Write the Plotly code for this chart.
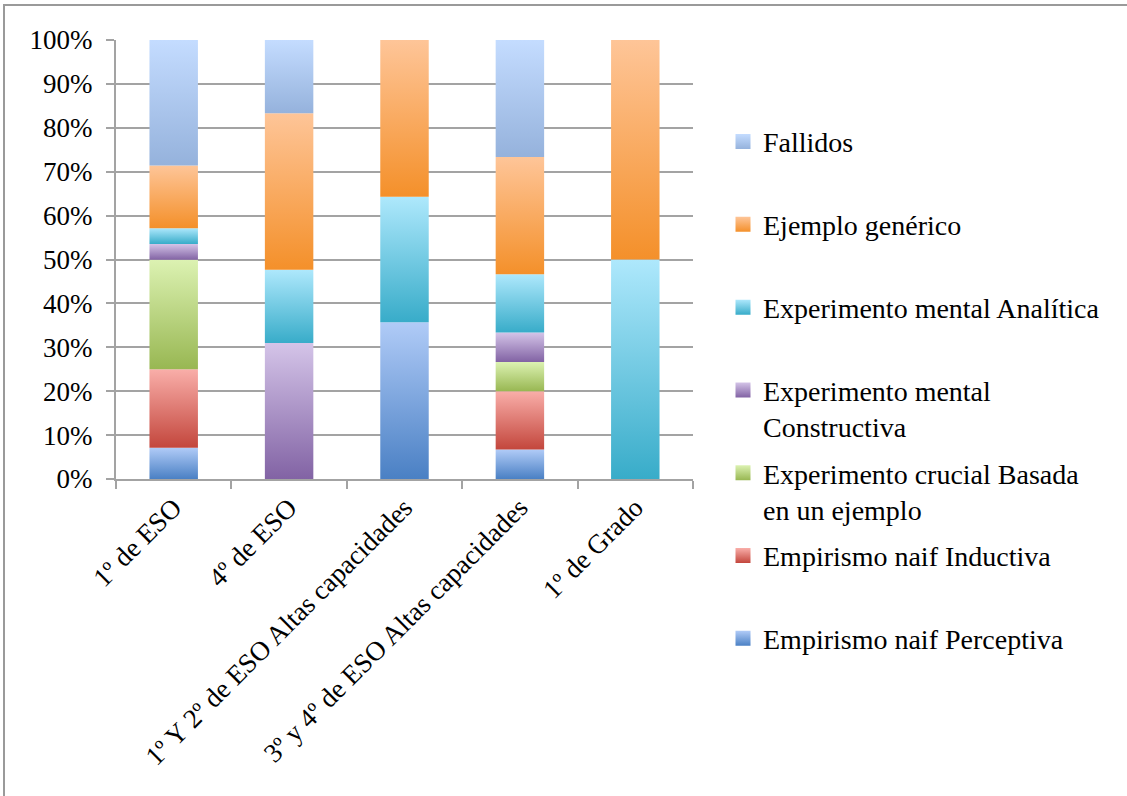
import numpy as np
import plotly.graph_objects as go

# Student groups (x axis)
categories = [
    "1º de ESO",
    "4º de ESO",
    "1º Y 2º de ESO Altas capacidades",
    "3º y 4º de ESO Altas capacidades",
    "1º de Grado",
]

# Percentage of answers of each type per group, stacked bottom -> top
perceptiva = [7.1, 0.0, 35.7, 6.7, 0.0]
inductiva = [17.9, 0.0, 0.0, 13.3, 0.0]
crucial = [25.0, 0.0, 0.0, 6.7, 0.0]
constructiva = [3.6, 31.0, 0.0, 6.7, 0.0]
analitica = [3.6, 16.7, 28.6, 13.3, 50.0]
generico = [14.3, 35.7, 35.7, 26.7, 50.0]
fallidos = [28.6, 16.7, 0.0, 26.7, 0.0]

# Legend labels; single-line ones get an empty second line so every
# legend entry occupies the same height
series_names = [
    "Empirismo naif Perceptiva<br>\u00a0",
    "Empirismo naif Inductiva<br>\u00a0",
    "Experimento crucial Basada<br>en un ejemplo",
    "Experimento mental<br>Constructiva",
    "Experimento mental Analítica<br>\u00a0",
    "Ejemplo genérico<br>\u00a0",
    "Fallidos<br>\u00a0",
]
series_values = [perceptiva, inductiva, crucial, constructiva, analitica, generico, fallidos]

# (light top, dark bottom) gradient colours for each series
series_colors = [
    ("#b0cbf7", "#4a80c4"),
    ("#f9aea9", "#c3463c"),
    ("#dcf2b2", "#98b752"),
    ("#d4c4e8", "#8263a4"),
    ("#aee8fc", "#38acc9"),
    ("#fec598", "#f4902a"),
    ("#c4dcff", "#95b2dc"),
]

FONT = "Liberation Serif"
GRID = "#a3a3a3"
HALF_W = 0.21

data = np.array(series_values, dtype=float)
share = data / data.sum(axis=0)          # 100 % stacked
tops = np.cumsum(share, axis=0)
bottoms = tops - share

fig = go.Figure()

# legend entries (top to bottom: last series first)
for k in reversed(range(len(series_names))):
    light, dark = series_colors[k]
    fig.add_trace(go.Scatter(
        x=[None], y=[None], mode="markers",
        name=series_names[k], legendgroup=f"g{k}",
        marker=dict(symbol="square", size=15, color=light,
                    gradient=dict(type="vertical", color=dark),
                    line=dict(width=0)),
    ))

# stacked segments with vertical gradient
for k in range(len(series_names)):
    light, dark = series_colors[k]
    for i in range(len(categories)):
        if share[k, i] <= 0:
            continue
        b, t = bottoms[k, i], tops[k, i]
        fig.add_trace(go.Scatter(
            x=[i - HALF_W, i + HALF_W, i + HALF_W, i - HALF_W, i - HALF_W],
            y=[b, b, t, t, b],
            mode="lines", fill="toself",
            line=dict(width=0, color=dark),
            fillgradient=dict(type="vertical",
                              colorscale=[[0, dark], [1, light]]),
            showlegend=False, legendgroup=f"g{k}",
            hoverinfo="skip",
        ))

fig.update_layout(
    width=1127, height=796,
    margin=dict(l=116, r=434, t=40, b=317),
    paper_bgcolor="white", plot_bgcolor="white",
    font=dict(family=FONT, size=27, color="black"),
    showlegend=True,
    legend=dict(
        x=1.052, y=0.825, xanchor="left", yanchor="top",
        traceorder="grouped", tracegroupgap=7, valign="top",
        font=dict(family=FONT, size=28),
        itemwidth=30, maxheight=760,
    ),
    xaxis=dict(
        range=[-0.5, 4.5], tickmode="array",
        tickvals=list(range(len(categories))), ticktext=categories,
        tickangle=-45, ticks="", showgrid=False, zeroline=False,
        showline=True, linecolor=GRID, linewidth=2,
        minor=dict(tickmode="array",
                   tickvals=[i - 0.5 for i in range(len(categories) + 1)],
                   ticks="outside", ticklen=8, tickwidth=2, tickcolor=GRID,
                   showgrid=False),
        fixedrange=True,
    ),
    yaxis=dict(
        range=[0, 1], tickmode="linear", tick0=0, dtick=0.1,
        tickformat=".0%", showgrid=True, gridcolor=GRID, gridwidth=2,
        zeroline=False, showline=True, linecolor=GRID, linewidth=2,
        ticks="outside", ticklen=8, tickwidth=2, tickcolor=GRID,
        ticklabelstandoff=8,
        fixedrange=True,
    ),
    shapes=[dict(
        type="rect", xref="paper", yref="paper",
        x0=(4 - 116) / 577, x1=(1160 - 116) / 577,
        y0=(479 - 830) / 439, y1=(479 - 5) / 439,
        line=dict(color="#9a9a9a", width=2), fillcolor="rgba(0,0,0,0)",
        layer="below",
    )],
)

fig.write_html("out.html")
